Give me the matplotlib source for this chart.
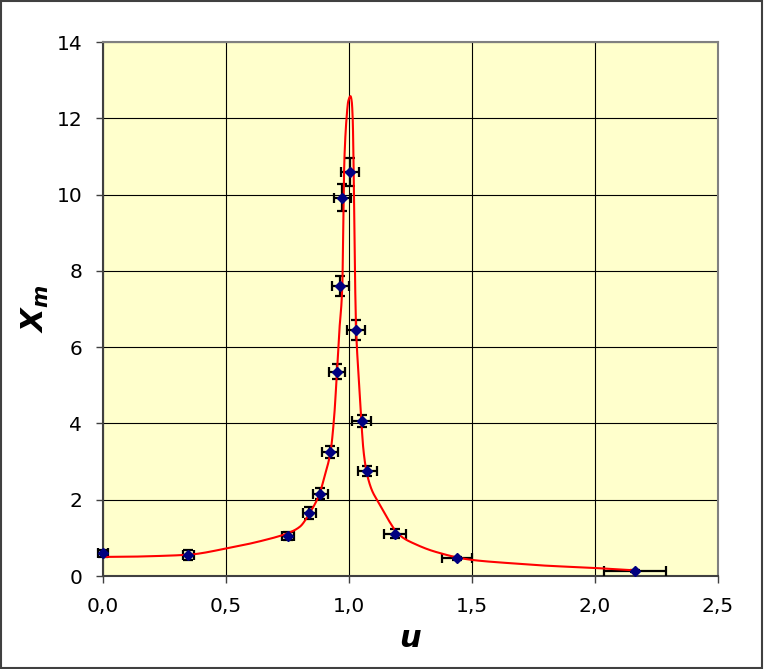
import matplotlib
matplotlib.use("Agg")
import numpy as np
import matplotlib.pyplot as plt
from matplotlib.patches import Rectangle

# ---- measured data points ----
u_pts = [0.0, 0.347, 0.751, 0.839, 0.883, 0.924, 0.950, 0.965, 0.973, 1.004,
         1.028, 1.051, 1.074, 1.187, 1.440, 2.161]
x_pts = [0.595, 0.55, 1.05, 1.65, 2.16, 3.25, 5.36, 7.61, 9.92, 10.60,
         6.45, 4.07, 2.75, 1.11, 0.46, 0.13]
u_err = [0.022, 0.022, 0.025, 0.028, 0.030, 0.032, 0.033, 0.034, 0.035, 0.035,
         0.037, 0.037, 0.039, 0.044, 0.060, 0.126]
x_err = [0.09, 0.12, 0.10, 0.16, 0.15, 0.16, 0.20, 0.26, 0.35, 0.37,
         0.25, 0.16, 0.14, 0.12, 0.05, 0.03]

# ---- curve ----
u_curve = [0.0, 0.1, 0.2, 0.35, 0.5, 0.65, 0.75, 0.80, 0.84, 0.88, 0.90, 0.925,
           0.94, 0.951, 0.961, 0.973, 0.978, 0.982, 0.990, 0.997, 1.006, 1.011,
           1.015, 1.018, 1.020, 1.024, 1.029, 1.038, 1.050, 1.058, 1.068, 1.08,
           1.095, 1.118, 1.14, 1.165, 1.193, 1.225, 1.261, 1.329, 1.37, 1.437,
           1.502, 1.667, 1.803, 2.0, 2.073, 2.16]
x_curve = [0.50, 0.505, 0.52, 0.56, 0.72, 0.93, 1.12, 1.29, 1.65, 2.15, 2.6, 3.26,
           4.2, 5.35, 6.45, 7.64, 10.0, 11.05, 12.0, 12.45, 12.58, 12.45,
           12.0, 11.05, 10.0, 8.0, 6.45, 5.35, 4.07, 3.35, 2.85, 2.5,
           2.22, 1.95, 1.70, 1.42, 1.15, 0.98, 0.86, 0.68, 0.60, 0.49,
           0.42, 0.33, 0.27, 0.21, 0.18, 0.15]

x_ticks = [0.0, 0.5, 1.0, 1.5, 2.0, 2.5]
x_ticklabels = ["0,0", "0,5", "1,0", "1,5", "2,0", "2,5"]
y_ticks = [0, 2, 4, 6, 8, 10, 12, 14]


def pchip_render(x, y, n_per_seg=20):
    """Monotone cubic rendering path through the read points (smoothed line)."""
    x = np.asarray(x, float)
    y = np.asarray(y, float)
    h = np.diff(x)
    d = np.diff(y) / h
    m = np.zeros_like(y)
    for k in range(1, len(x) - 1):
        if d[k - 1] * d[k] > 0:
            w1 = 2 * h[k] + h[k - 1]
            w2 = h[k] + 2 * h[k - 1]
            m[k] = (w1 + w2) / (w1 / d[k - 1] + w2 / d[k])
    m[0] = d[0]
    m[-1] = d[-1]
    xs, ys = [], []
    for k in range(len(x) - 1):
        t = np.linspace(0, 1, n_per_seg, endpoint=False)
        h00 = 2 * t**3 - 3 * t**2 + 1
        h10 = t**3 - 2 * t**2 + t
        h01 = -2 * t**3 + 3 * t**2
        h11 = t**3 - t**2
        xs.append(x[k] + t * h[k])
        ys.append(h00 * y[k] + h10 * h[k] * m[k] + h01 * y[k + 1] + h11 * h[k] * m[k + 1])
    xs.append([x[-1]])
    ys.append([y[-1]])
    return np.concatenate(xs), np.concatenate(ys)


plt.rcParams['font.family'] = ['DejaVu Sans']
plt.rcParams['mathtext.fontset'] = 'custom'
plt.rcParams['mathtext.it'] = 'DejaVu Sans:italic:bold'
plt.rcParams['mathtext.rm'] = 'DejaVu Sans:bold'

fig = plt.figure(figsize=(7.64, 6.69), dpi=100)
fig.patch.set_facecolor('white')
fig.patches.append(Rectangle((0.001, 0.002), 0.997, 0.996, transform=fig.transFigure,
                             fill=False, edgecolor='#404040', linewidth=1.5))

ax = fig.add_axes([103 / 764, 1 - 576 / 669, 615 / 764, 534 / 669])
ax.set_facecolor('#FFFFCC')

eb = ax.errorbar(u_pts, x_pts, xerr=u_err, yerr=x_err, fmt='none', ecolor='black',
                 elinewidth=1.6, capsize=3.8, capthick=1.6, zorder=3)
for art in list(eb.lines[1]) + list(eb.lines[2]):
    art.set_clip_on(False)

cu, cx = pchip_render(u_curve, x_curve)
ax.plot(cu, cx, color='#FF0000', linewidth=1.5, zorder=4)
ax.plot(u_pts, x_pts, linestyle='none', marker='D', markersize=4.6,
        markerfacecolor='#000080', markeredgecolor='#000080', zorder=5, clip_on=False)

ax.set_xlim(0, 2.5)
ax.set_ylim(0, 14)
ax.set_xticks(x_ticks)
ax.set_xticklabels(x_ticklabels)
ax.set_yticks(y_ticks)
ax.set_yticklabels([str(v) for v in y_ticks])
ax.grid(True, color='black', linewidth=0.8, zorder=1)
ax.set_axisbelow(True)

for side in ['top', 'right']:
    ax.spines[side].set_color('#808080')
    ax.spines[side].set_linewidth(1.5)
for side in ['left', 'bottom']:
    ax.spines[side].set_color('#404040')
    ax.spines[side].set_linewidth(1.5)

ax.tick_params(axis='both', direction='out', length=5, width=1, color='#404040',
               labelsize=14.5, pad=10)

ax.set_xlabel(r'$u$', fontsize=22, labelpad=6)
ax.set_ylabel(r'$X_m$', fontsize=22, labelpad=4)

fig.savefig('out.png', dpi=100)
